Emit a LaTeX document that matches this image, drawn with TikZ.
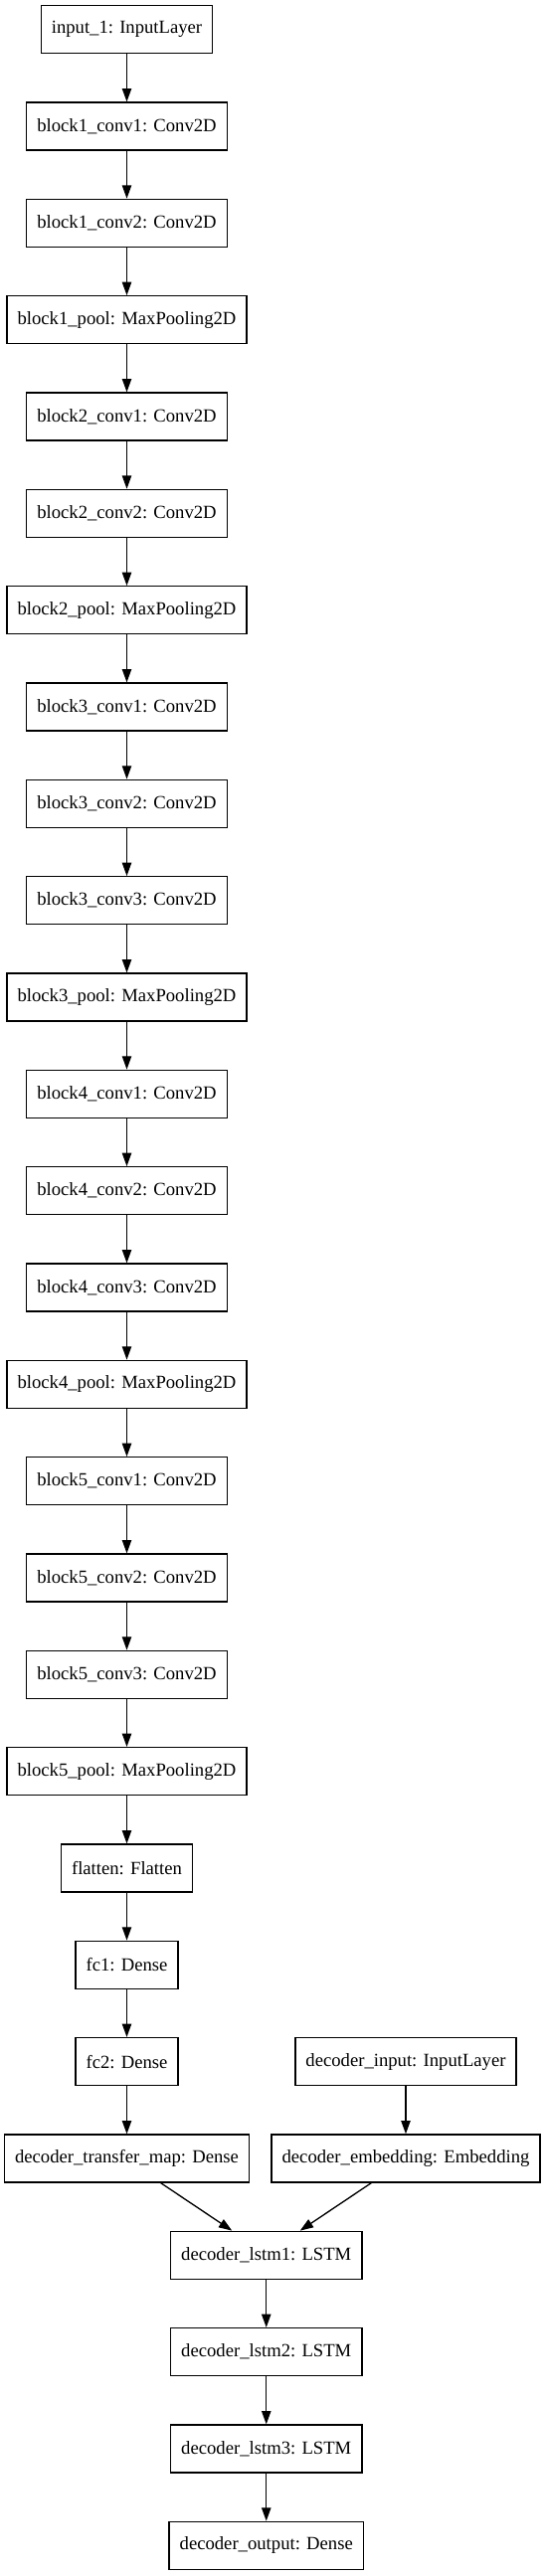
\documentclass[tikz,border=0pt]{standalone}
\usepackage{fontspec}
\setmainfont{Liberation Serif}
\usepackage{tikz}
\usetikzlibrary{arrows.meta}

\begin{document}
\begin{tikzpicture}[x=0.75pt,y=-0.75pt,
  layer/.style={draw=black, line width=1pt, rectangle, inner xsep=7.92pt, inner ysep=0pt,
    minimum height=36pt, font=\fontsize{14pt}{16pt}\selectfont},
  flow/.style={line width=1pt, -{Triangle[length=10pt,width=7pt]}}]
\useasboundingbox (0,0) rectangle (547,2591);
% encoder column
\node [layer] (in1) at (127.5,29.7) {input\_1: InputLayer};
\node [layer] (b1c1) at (127.5,127.0) {block1\_conv1: Conv2D};
\node [layer] (b1c2) at (127.5,224.4) {block1\_conv2: Conv2D};
\node [layer] (b1p) at (127.5,321.7) {block1\_pool: MaxPooling2D};
\node [layer] (b2c1) at (127.5,419.0) {block2\_conv1: Conv2D};
\node [layer] (b2c2) at (127.5,516.4) {block2\_conv2: Conv2D};
\node [layer] (b2p) at (127.5,613.7) {block2\_pool: MaxPooling2D};
\node [layer] (b3c1) at (127.5,711.0) {block3\_conv1: Conv2D};
\node [layer] (b3c2) at (127.5,808.3) {block3\_conv2: Conv2D};
\node [layer] (b3c3) at (127.5,905.7) {block3\_conv3: Conv2D};
\node [layer] (b3p) at (127.5,1003.0) {block3\_pool: MaxPooling2D};
\node [layer] (b4c1) at (127.5,1100.3) {block4\_conv1: Conv2D};
\node [layer] (b4c2) at (127.5,1197.7) {block4\_conv2: Conv2D};
\node [layer] (b4c3) at (127.5,1295.0) {block4\_conv3: Conv2D};
\node [layer] (b4p) at (127.5,1392.3) {block4\_pool: MaxPooling2D};
\node [layer] (b5c1) at (127.5,1489.7) {block5\_conv1: Conv2D};
\node [layer] (b5c2) at (127.5,1587.0) {block5\_conv2: Conv2D};
\node [layer] (b5c3) at (127.5,1684.3) {block5\_conv3: Conv2D};
\node [layer] (b5p) at (127.5,1781.6) {block5\_pool: MaxPooling2D};
\node [layer] (flat) at (127.5,1879.0) {flatten: Flatten};
\node [layer] (fc1) at (127.5,1976.3) {fc1: Dense};
\node [layer] (fc2) at (127.5,2073.6) {fc2: Dense};
\node [layer] (tmap) at (127.5,2171.0) {decoder\_transfer\_map: Dense};
% decoder input column
\node [layer] (dinp) at (408,2073.6) {decoder\_input: InputLayer};
\node [layer] (demb) at (408,2171.0) {decoder\_embedding: Embedding};
% decoder stack
\node [layer] (lstm1) at (267.75,2268.3) {decoder\_lstm1: LSTM};
\node [layer] (lstm2) at (267.75,2365.6) {decoder\_lstm2: LSTM};
\node [layer] (lstm3) at (267.75,2463.0) {decoder\_lstm3: LSTM};
\node [layer] (dout) at (267.75,2560.3) {decoder\_output: Dense};
% connections
\draw [flow] (in1) -- (b1c1);
\draw [flow] (b1c1) -- (b1c2);
\draw [flow] (b1c2) -- (b1p);
\draw [flow] (b1p) -- (b2c1);
\draw [flow] (b2c1) -- (b2c2);
\draw [flow] (b2c2) -- (b2p);
\draw [flow] (b2p) -- (b3c1);
\draw [flow] (b3c1) -- (b3c2);
\draw [flow] (b3c2) -- (b3c3);
\draw [flow] (b3c3) -- (b3p);
\draw [flow] (b3p) -- (b4c1);
\draw [flow] (b4c1) -- (b4c2);
\draw [flow] (b4c2) -- (b4c3);
\draw [flow] (b4c3) -- (b4p);
\draw [flow] (b4p) -- (b5c1);
\draw [flow] (b5c1) -- (b5c2);
\draw [flow] (b5c2) -- (b5c3);
\draw [flow] (b5c3) -- (b5p);
\draw [flow] (b5p) -- (flat);
\draw [flow] (flat) -- (fc1);
\draw [flow] (fc1) -- (fc2);
\draw [flow] (fc2) -- (tmap);
\draw [flow] (dinp) -- (demb);
\draw [flow] (tmap.south -| 161.7,0) -- (lstm1.north -| 233.3,0);
\draw [flow] (demb.south -| 373.3,0) -- (lstm1.north -| 301.7,0);
\draw [flow] (lstm1) -- (lstm2);
\draw [flow] (lstm2) -- (lstm3);
\draw [flow] (lstm3) -- (dout);
\end{tikzpicture}
\end{document}
